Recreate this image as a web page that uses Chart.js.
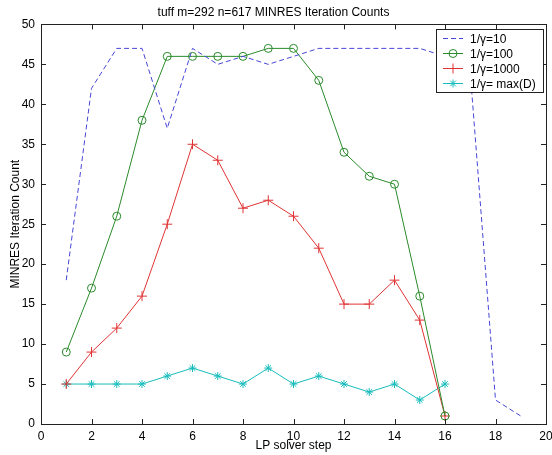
<!DOCTYPE html>
<html>
<head>
<meta charset="utf-8">
<script src="https://cdn.jsdelivr.net/npm/chart.js@4.4.0/dist/chart.umd.min.js"></script>
<style>
  html, body { margin: 0; padding: 0; background: #fff; }
  #wrap { width: 552px; height: 455px; }
</style>
</head>
<body>
<div id="wrap"><canvas id="chart" width="552" height="455"></canvas></div>
<script>
const steps = [1, 2, 3, 4, 5, 6, 7, 8, 9, 10, 11, 12, 13, 14, 15, 16, 17, 18, 19];
const gamma10 = [18, 42, 47, 47, 37, 47, 45, 46, 45, 46, 47, 47, 47, 47, 47, 46, 44, 3, 1];
const gamma100 = [9, 17, 26, 38, 46, 46, 46, 46, 47, 47, 43, 34, 31, 30, 16, 1];
const gamma1000 = [5, 9, 12, 16, 25, 35, 33, 27, 28, 26, 22, 15, 15, 18, 13, 1];
const gammaMaxD = [5, 5, 5, 5, 6, 7, 6, 5, 7, 5, 6, 5, 4, 5, 3, 5];
const seriesNames = ["1/\u03b3=10", "1/\u03b3=100", "1/\u03b3=1000", "1/\u03b3= max(D)"];
const xTicks = [0, 2, 4, 6, 8, 10, 12, 14, 16, 18, 20];
const yTicks = [0, 5, 10, 15, 20, 25, 30, 35, 40, 45, 50];

const FONT = "'Liberation Sans', Arial, sans-serif";
const toXY = vals => vals.map((v, i) => ({ x: steps[i], y: v }));

// matlab style axes box with inward ticks, plus the boxed legend
const framePlugin = {
  id: "frame",
  afterDraw(chart) {
    const { ctx, chartArea: a, scales } = chart;
    ctx.save();
    ctx.strokeStyle = "#222";
    ctx.lineWidth = 1;
    ctx.setLineDash([]);
    ctx.beginPath();
    xTicks.forEach(t => {
      const x = Math.round(scales.x.getPixelForValue(t)) + 0.5;
      ctx.moveTo(x, a.bottom); ctx.lineTo(x, a.bottom - 5);
      ctx.moveTo(x, a.top); ctx.lineTo(x, a.top + 5);
    });
    yTicks.forEach(t => {
      const y = Math.round(scales.y.getPixelForValue(t)) + 0.5;
      ctx.moveTo(a.left, y); ctx.lineTo(a.left + 5, y);
      ctx.moveTo(a.right, y); ctx.lineTo(a.right - 5, y);
    });
    ctx.stroke();
    ctx.strokeRect(Math.round(a.left) + 0.5, Math.round(a.top) + 0.5,
      Math.round(a.right - a.left), Math.round(a.bottom - a.top));

    // legend
    const w = 107, h = 63;
    const lx = Math.round(a.right - w - 3), ly = Math.round(a.top + 5);
    ctx.fillStyle = "#fff";
    ctx.fillRect(lx, ly, w, h);
    ctx.strokeRect(lx + 0.5, ly + 0.5, w, h);
    ctx.font = "12px " + FONT;
    ctx.textBaseline = "middle";
    chart.data.datasets.forEach((ds, i) => {
      const y = Math.round(ly + 9 + i * 15) + 0.5;
      ctx.strokeStyle = ds.borderColor;
      ctx.setLineDash(ds.borderDash || []);
      ctx.beginPath();
      ctx.moveTo(lx + 7, y); ctx.lineTo(lx + 27, y);
      ctx.stroke();
      ctx.setLineDash([]);
      if (ds.pointRadius > 0) {
        ctx.fillStyle = "rgba(0,0,0,0)";
        Chart.helpers.drawPoint(ctx, {
          pointStyle: ds.pointStyle, radius: ds.pointRadius, rotation: 0, borderWidth: 1
        }, lx + 17, y);
      }
      ctx.fillStyle = "#000";
      ctx.fillText(ds.label, lx + 34, y + 1);
    });
    ctx.restore();
  }
};

new Chart(document.getElementById("chart"), {
  type: "line",
  data: {
    datasets: [
      { label: seriesNames[0], data: toXY(gamma10), borderColor: "#4646d6", borderDash: [5, 3],
        borderWidth: 1, pointRadius: 0 },
      { label: seriesNames[1], data: toXY(gamma100), borderColor: "#2a8a2a", borderWidth: 1,
        pointStyle: "circle", pointRadius: 4 },
      { label: seriesNames[2], data: toXY(gamma1000), borderColor: "#e03434", borderWidth: 1,
        pointStyle: "cross", pointRadius: 5 },
      { label: seriesNames[3], data: toXY(gammaMaxD), borderColor: "#18bcbc", borderWidth: 1,
        pointStyle: "star", pointRadius: 4 }
    ].map(d => Object.assign(d, {
      backgroundColor: "transparent", pointBorderColor: d.borderColor,
      pointBackgroundColor: "transparent", pointBorderWidth: 1, tension: 0, fill: false
    }))
  },
  options: {
    responsive: false,
    animation: false,
    layout: { padding: { left: 0, right: 5, top: 0, bottom: 0 } },
    plugins: {
      legend: { display: false },
      tooltip: { enabled: false },
      title: {
        display: true,
        text: "tuff m=292 n=617 MINRES Iteration Counts",
        color: "#000",
        font: { family: FONT, size: 12, weight: "normal" },
        padding: { top: 5, bottom: 5 }
      }
    },
    scales: {
      x: {
        type: "linear", min: 0, max: 20,
        afterBuildTicks: s => { s.ticks = xTicks.map(v => ({ value: v })); },
        afterFit: s => { s.height = 31; s.paddingLeft = 0; s.paddingRight = 0; },
        grid: { display: false, drawTicks: false, tickLength: 0 },
        border: { display: false },
        ticks: { color: "#000", font: { family: FONT, size: 12 }, padding: 5, maxRotation: 0 },
        title: { display: true, text: "LP solver step", color: "#000",
          font: { family: FONT, size: 12 }, padding: { top: 0, bottom: 2 } }
      },
      y: {
        type: "linear", min: 0, max: 50,
        afterBuildTicks: s => { s.ticks = yTicks.map(v => ({ value: v })); },
        afterFit: s => { s.width = 41; s.paddingTop = 0; s.paddingBottom = 0; },
        grid: { display: false, drawTicks: false, tickLength: 0 },
        border: { display: false },
        ticks: { color: "#000", font: { family: FONT, size: 12 }, padding: 6 },
        title: { display: true, text: "MINRES Iteration Count", color: "#000",
          font: { family: FONT, size: 12 }, padding: { top: 8, bottom: 0 } }
      }
    }
  },
  plugins: [framePlugin]
});
</script>
</body>
</html>
